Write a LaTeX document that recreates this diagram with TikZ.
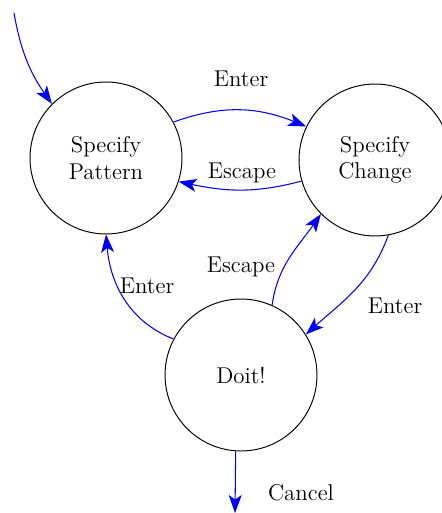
\documentclass[tikz,border=0pt]{standalone}
\usepackage{tikz}
\usetikzlibrary{positioning, arrows.meta}

\begin{document}
\begin{tikzpicture}[x=0.02cm, y=-0.02cm, >={Stealth[length=3.6mm,width=2.6mm,inset=0.9mm]},
    every node/.style={font=\fontsize{13}{15}\selectfont, align=center},
    state/.style={draw, circle, line width=0.55pt, minimum size=3.04cm, inner sep=0pt},
    trans/.style={->, blue, line width=0.6pt}]
    \useasboundingbox (0,0) rectangle (442,513);

    \node[state] (pattern) at (106,158) {Specify\\Pattern};
    \node[state] (change) at (375,160) {Specify\\Change};
    \node[state] (doit) at (241,375) {Doit!};

    \coordinate (init) at (14,13);
    \coordinate (cancel) at (235,513);

    \draw[trans] (init) to[out=-80, in=125] (pattern.135);
    \draw[trans] (pattern.28) to[out=20, in=158] (change.154);
    \draw[trans] (change.196) to[out=195, in=-12] (pattern.-18);
    \draw[trans] (doit.152) to[out=158, in=-85] (pattern.south);
    \draw[trans] (doit.66) to[out=82, in=-125] (change.-135);
    \draw[trans] (change.-80) to[out=-110, in=42] (doit.32);
    \draw[trans] (doit.-94) -- (cancel);

    \node (enter1) at (241,79) {Enter};
    \node (escape1) at (242,173) {Escape};
    \node (enter2) at (147,286) {Enter};
    \node (escape2) at (241,267) {Escape};
    \node (enter3) at (395,306) {Enter};
    \node (cancellbl) at (301,493) {Cancel};
\end{tikzpicture}
\end{document}
